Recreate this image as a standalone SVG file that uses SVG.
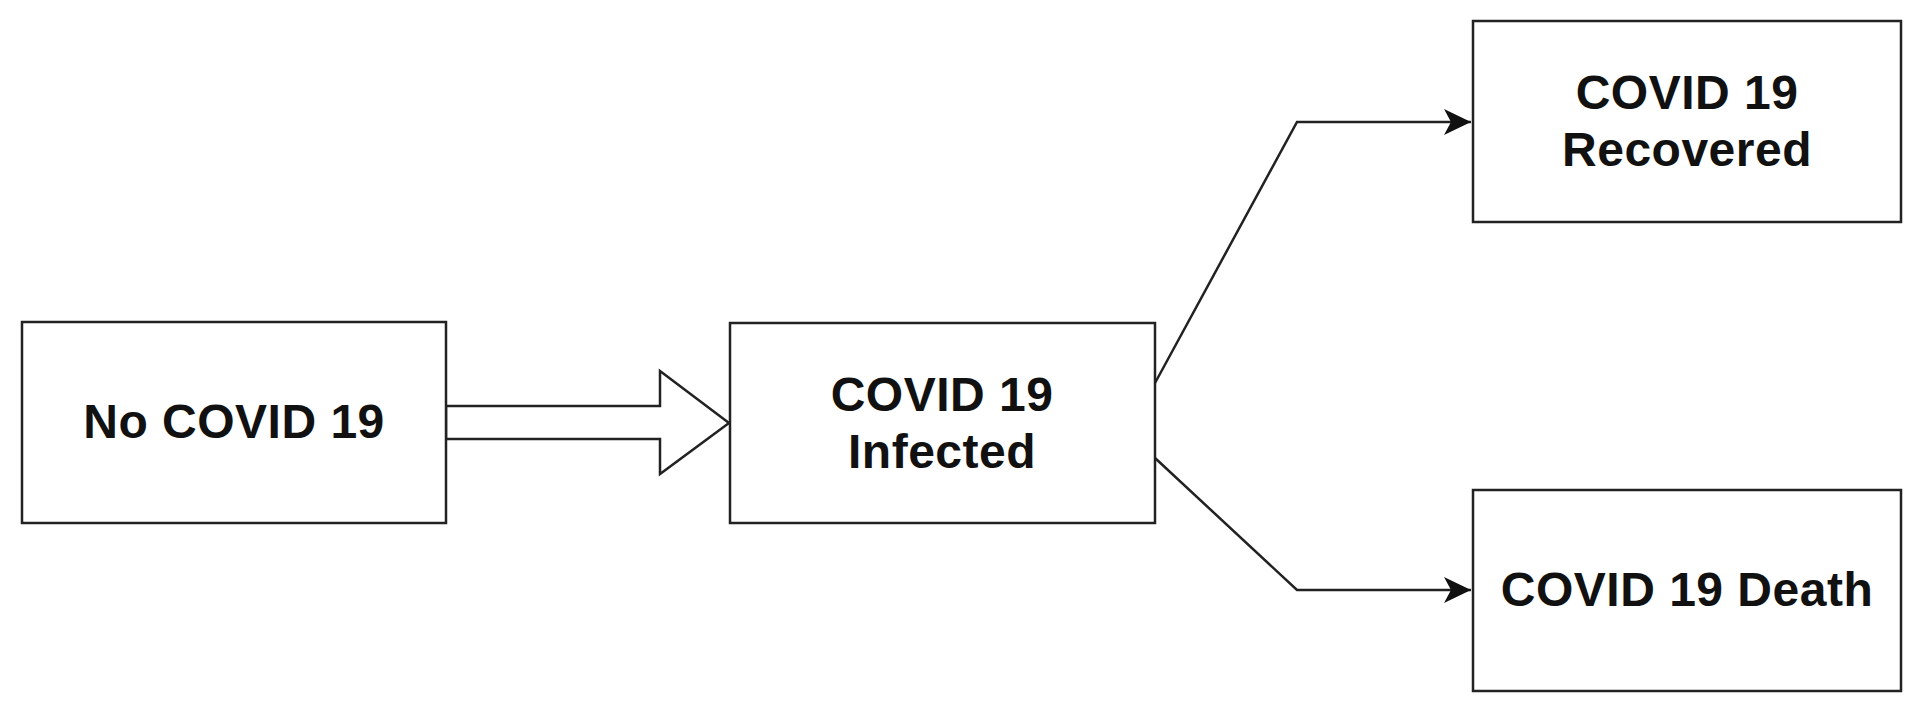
<svg xmlns="http://www.w3.org/2000/svg" width="1920" height="715" viewBox="0 0 1920 715">
<style>
.box{fill:#fff;stroke:#222;stroke-width:2.5}
.lbl{font-family:"Liberation Sans",Arial,sans-serif;font-weight:bold;font-size:48px;letter-spacing:0.5px;fill:#111;text-anchor:middle}
.conn{fill:none;stroke:#222;stroke-width:2.5}
</style>
<defs>
<marker id="ah" markerUnits="userSpaceOnUse" markerWidth="32" markerHeight="28" refX="27" refY="13" orient="auto">
<path d="M0,0 L27,13 L0,26 L7,13 Z" fill="#111"/>
</marker>
</defs>
<rect width="1920" height="715" fill="#fff"/>
<g id="connectors">
<polygon class="conn" style="fill:#fff" points="446,406 660,406 660,371 729,423 660,474 660,439 446,439"/>
<polyline class="conn" points="1155,383 1297,122 1471,122" marker-end="url(#ah)"/>
<polyline class="conn" points="1155,458 1297,590 1471,590" marker-end="url(#ah)"/>
</g>
<g id="no-covid">
<rect class="box" x="22" y="322" width="424" height="201"/>
<text class="lbl" x="234" y="438">No COVID 19</text>
</g>
<g id="infected">
<rect class="box" x="730" y="323" width="425" height="200"/>
<text class="lbl" x="942" y="411">COVID 19</text>
<text class="lbl" x="942" y="468">Infected</text>
</g>
<g id="recovered">
<rect class="box" x="1473" y="21" width="428" height="201"/>
<text class="lbl" x="1687" y="109">COVID 19</text>
<text class="lbl" x="1687" y="166">Recovered</text>
</g>
<g id="death">
<rect class="box" x="1473" y="490" width="428" height="201"/>
<text class="lbl" x="1687" y="606">COVID 19 Death</text>
</g>
</svg>
